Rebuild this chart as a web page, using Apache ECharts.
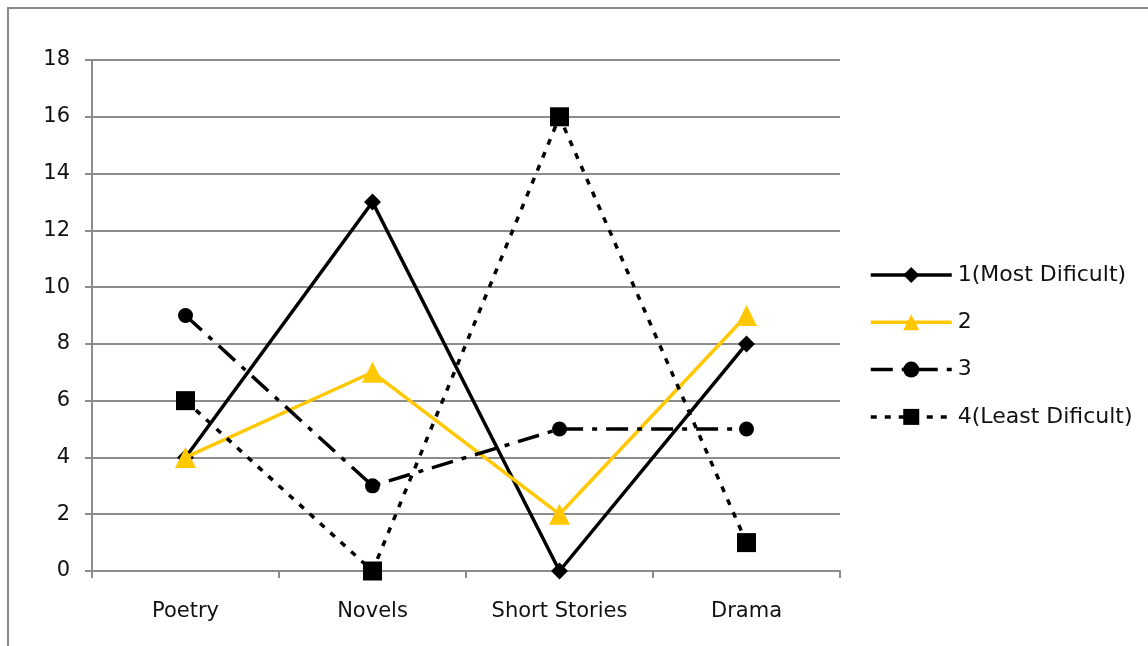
<!DOCTYPE html>
<html>
<head>
<meta charset="utf-8">
<script src="https://cdn.jsdelivr.net/npm/echarts@6/dist/echarts.min.js"></script>
<style>
  html, body { margin: 0; padding: 0; background: #fff; }
  #chart { width: 1148px; height: 646px; }
</style>
</head>
<body>
<div id="chart"></div>
<script>
// Genre difficulty ranking counts
const categories = ['Poetry', 'Novels', 'Short Stories', 'Drama'];
const seriesNames = ['1(Most Dificult)', '2', '3', '4(Least Dificult)'];
const rank1 = [4, 13, 0, 8];
const rank2 = [4, 7, 2, 9];
const rank3 = [9, 3, 5, 5];
const rank4 = [6, 0, 16, 1];
const yTicks = { min: 0, max: 18, interval: 2 };

const FONT = '"DejaVu Sans", sans-serif';
const AXIS_TEXT = 21;
const LEGEND_TEXT = 22;
const GRID_GRAY = '#8c8c8c';
const LINE_W = 3.5;

const chart = echarts.init(document.getElementById('chart'), null, { renderer: 'canvas' });

chart.setOption({
  animation: false,
  backgroundColor: '#fff',
  graphic: [{
    type: 'rect',
    shape: { x: 8, y: 8, width: 1200, height: 700 },
    style: { fill: 'none', stroke: '#888', lineWidth: 2 },
    silent: true,
    z: -1
  }],
  grid: { left: 92, right: 308, top: 60, bottom: 75 },
  legend: {
    orient: 'vertical',
    left: 864,
    top: 259,
    itemWidth: 81,
    itemHeight: 20,
    itemGap: 25.3,
    lineStyle: { width: LINE_W },
    textStyle: { fontFamily: FONT, fontSize: LEGEND_TEXT, lineHeight: 20, color: '#111', padding: [0, 0, 0, 1] },
    data: seriesNames
  },
  xAxis: {
    type: 'category',
    data: categories,
    boundaryGap: true,
    axisLine: { lineStyle: { color: GRID_GRAY, width: 2 } },
    axisTick: { show: true, length: 7, lineStyle: { color: GRID_GRAY, width: 2 } },
    axisLabel: { fontFamily: FONT, fontSize: AXIS_TEXT, color: '#111', margin: 30 },
    splitLine: { show: false }
  },
  yAxis: {
    type: 'value',
    min: yTicks.min,
    max: yTicks.max,
    interval: yTicks.interval,
    axisLine: { show: true, lineStyle: { color: GRID_GRAY, width: 2 } },
    axisTick: { show: true, length: 7, lineStyle: { color: GRID_GRAY, width: 2 } },
    axisLabel: { fontFamily: FONT, fontSize: AXIS_TEXT, color: '#111', margin: 22 },
    splitLine: { lineStyle: { color: GRID_GRAY, width: 2 } }
  },
  series: [
    {
      name: seriesNames[0], type: 'line', data: rank1,
      symbol: 'diamond', symbolSize: 17,
      itemStyle: { color: '#000' },
      lineStyle: { color: '#000', width: LINE_W },
      z: 3
    },
    {
      name: seriesNames[1], type: 'line', data: rank2,
      symbol: 'triangle', symbolSize: 21,
      itemStyle: { color: '#FFC800' },
      lineStyle: { color: '#FFC800', width: LINE_W },
      z: 4
    },
    {
      name: seriesNames[2], type: 'line', data: rank3,
      symbol: 'circle', symbolSize: 15,
      itemStyle: { color: '#000' },
      lineStyle: { color: '#000', width: LINE_W, type: [22, 9, 5, 9], cap: 'butt' },
      z: 5
    },
    {
      name: seriesNames[3], type: 'line', data: rank4,
      symbol: 'rect', symbolSize: 19,
      itemStyle: { color: '#000' },
      lineStyle: { color: '#000', width: LINE_W, type: [6, 8], cap: 'butt' },
      z: 6
    }
  ]
});
</script>
</body>
</html>
